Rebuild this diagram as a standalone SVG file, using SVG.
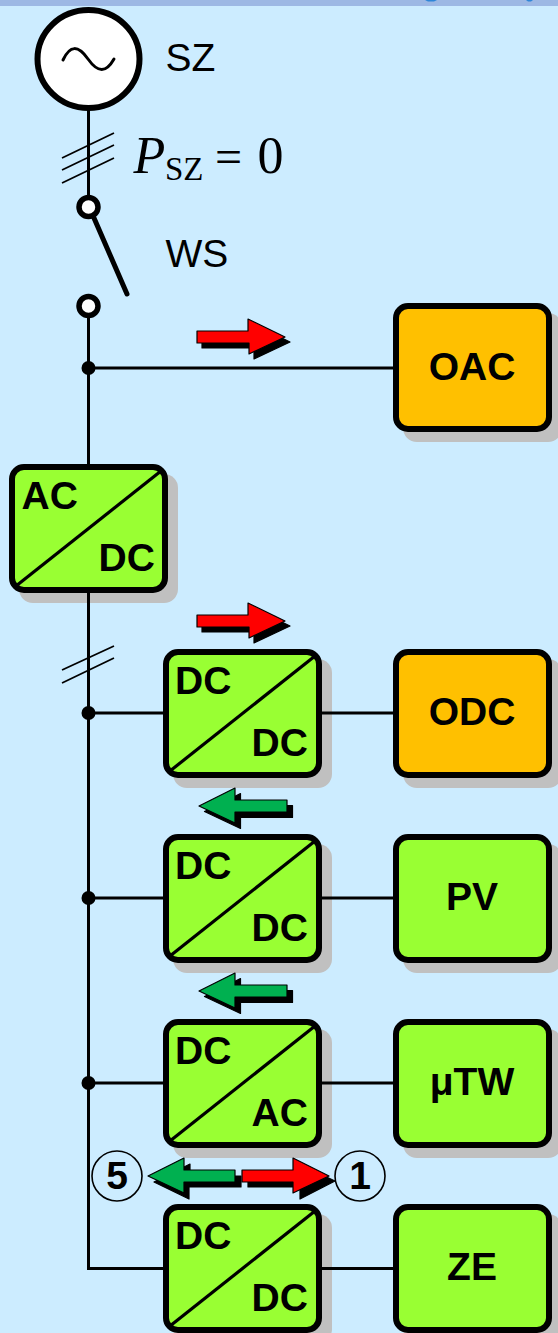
<svg xmlns="http://www.w3.org/2000/svg" width="558" height="1333" viewBox="0 0 558 1333">
<style>
.w{fill:none;stroke:#000;stroke-width:3}
.t{fill:none;stroke:#000;stroke-width:1.8}
.sh{fill:#c0c0c0}
.b{stroke:#000;stroke-width:6}
.g{fill:#9f3}
.o{fill:#ffc000}
.d{stroke:#000;stroke-width:3.2;fill:none}
.l{font:bold 39px "Liberation Sans",Arial,sans-serif;fill:#000}
.n{font:39px "Liberation Sans",Arial,sans-serif;fill:#000}
.m{font-family:"Liberation Serif","Times New Roman",serif;fill:#000}
.j{fill:#000}
.as{fill:#000;stroke:#000;stroke-width:1.2;stroke-linejoin:round}
.ar{fill:#f00;stroke:#000;stroke-width:1.2;stroke-linejoin:round}
.ag{fill:#00b050;stroke:#000;stroke-width:1.2;stroke-linejoin:round}
.c{fill:#ccecff;stroke:#000;stroke-width:1.6}
</style>
<defs>
<path id="ra" d="M197 331H248V319L285 337L249 354V343H197Z"/>
<path id="la" d="M287 800H235V788L199 806L235 823V812H287Z"/>
</defs>
<rect width="558" height="1333" fill="#ccecff"/>
<rect width="558" height="6" fill="#9db8e4"/>
<path d="M425 0H437L434 1.500H428ZM526 0H533L531 1.500H528Z" fill="#2f86d8"/>
<g id="sz">
<ellipse cx="88.500" cy="59" rx="51" ry="49" fill="#fff" stroke="#000" stroke-width="6"/>
<path d="M63 60C70 45 78 45 88 59S106 73 114 59" fill="none" stroke="#000" stroke-width="3" stroke-linecap="round"/>
<text class="n" x="165.500" y="70.500">SZ</text>
</g>
<g id="psz">
<text class="m" x="133.500" y="173" font-size="52" font-style="italic">P</text>
<text class="m" x="165" y="180" font-size="33">SZ</text>
<text class="m" x="215" y="173" font-size="48">=</text>
<text class="m" x="257.500" y="173" font-size="52">0</text>
</g>
<g id="ws">
<circle cx="88.500" cy="207" r="9.500" fill="#fff" stroke="#000" stroke-width="5.500"/>
<circle cx="88.500" cy="306" r="9.500" fill="#fff" stroke="#000" stroke-width="5.500"/>
<text class="n" x="165.500" y="267">WS</text>
</g>
<g id="oac"><rect class="sh" x="403" y="313" width="159" height="129" rx="14"/><rect class="b o" x="396" y="306" width="153" height="123" rx="12"/><text class="l" x="472" y="380" text-anchor="middle">OAC</text></g>
<g id="acdc"><rect class="sh" x="19" y="474" width="159" height="129" rx="14"/><rect class="b g" x="12" y="467" width="153" height="123" rx="12"/><path class="d" d="M16 586L161 471"/><text class="l" x="21.500" y="509">AC</text><text class="l" x="98.500" y="571">DC</text></g>
<g id="c1"><rect class="sh" x="173" y="659" width="159" height="129" rx="14"/><rect class="b g" x="166" y="652" width="153" height="123" rx="12"/><path class="d" d="M170 771L315 656"/><text class="l" x="175" y="694">DC</text><text class="l" x="251.500" y="756">DC</text></g>
<g id="odc"><rect class="sh" x="403" y="659" width="159" height="129" rx="14"/><rect class="b o" x="396" y="652" width="153" height="123" rx="12"/><text class="l" x="472" y="725" text-anchor="middle">ODC</text></g>
<g id="c2"><rect class="sh" x="173" y="844" width="159" height="129" rx="14"/><rect class="b g" x="166" y="837" width="153" height="123" rx="12"/><path class="d" d="M170 956L315 841"/><text class="l" x="175" y="879">DC</text><text class="l" x="251.500" y="941">DC</text></g>
<g id="pv"><rect class="sh" x="403" y="844" width="159" height="129" rx="14"/><rect class="b g" x="396" y="837" width="153" height="123" rx="12"/><text class="l" x="472" y="910" text-anchor="middle">PV</text></g>
<g id="c3"><rect class="sh" x="173" y="1029" width="159" height="129" rx="14"/><rect class="b g" x="166" y="1022" width="153" height="123" rx="12"/><path class="d" d="M170 1141L315 1026"/><text class="l" x="175" y="1064">DC</text><text class="l" x="251.500" y="1126">AC</text></g>
<g id="utw"><rect class="sh" x="403" y="1029" width="159" height="129" rx="14"/><rect class="b g" x="396" y="1022" width="153" height="123" rx="12"/><text class="l" x="472" y="1095" text-anchor="middle">μTW</text></g>
<g id="c4"><rect class="sh" x="173" y="1214" width="159" height="129" rx="14"/><rect class="b g" x="166" y="1207" width="153" height="123" rx="12"/><path class="d" d="M170 1326L315 1211"/><text class="l" x="175" y="1249">DC</text><text class="l" x="251.500" y="1311">DC</text></g>
<g id="ze"><rect class="sh" x="403" y="1214" width="159" height="129" rx="14"/><rect class="b g" x="396" y="1207" width="153" height="123" rx="12"/><text class="l" x="472" y="1280" text-anchor="middle">ZE</text></g>
<g id="connectors">
<path class="w" d="M88.500 110V197M88.500 316V465M88.500 592V1268.500H164M88.500 368H394M88.500 713H164M88.500 898H164M88.500 1083H164M321 713H394M321 898H394M321 1083H394M321 1268.500H394"/>
<path class="t" d="M62 158L114 133M62 170L114 145M62 183L114 158M62 670L114 646M62 683L114 658"/>
<circle class="j" cx="88.500" cy="368" r="7"/>
<circle class="j" cx="88.500" cy="713" r="7"/>
<circle class="j" cx="88.500" cy="898" r="7"/>
<circle class="j" cx="88.500" cy="1083" r="7"/>
<path d="M94 218L127 294" fill="none" stroke="#000" stroke-width="5" stroke-linecap="round"/>
</g>
<g id="arrows">
<use href="#ra" class="as" x="5" y="5"/><use href="#ra" class="ar"/>
<use href="#ra" class="as" x="5" y="289"/><use href="#ra" class="ar" y="284"/>
<use href="#la" class="as" x="5.500" y="5.500"/><use href="#la" class="ag"/>
<use href="#la" class="as" x="5.500" y="190.500"/><use href="#la" class="ag" y="185"/>
<path class="as" d="M248 1176H299V1164L335 1181L300 1199V1187H248Z"/>
<path class="ar" d="M242 1170H293V1158L329 1176L293 1193V1182H242Z"/>
<path class="as" d="M241 1176H190V1164L154 1182L189 1199V1187H241Z"/>
<path class="ag" d="M235 1170H184V1158L148 1176L184 1193V1182H235Z"/>
</g>
<g id="m5"><circle class="c" cx="117" cy="1176" r="25"/><text class="l" x="117" y="1189" text-anchor="middle">5</text></g>
<g id="m1"><circle class="c" cx="360" cy="1176" r="25"/><text class="l" x="360" y="1189" text-anchor="middle">1</text></g>
</svg>
